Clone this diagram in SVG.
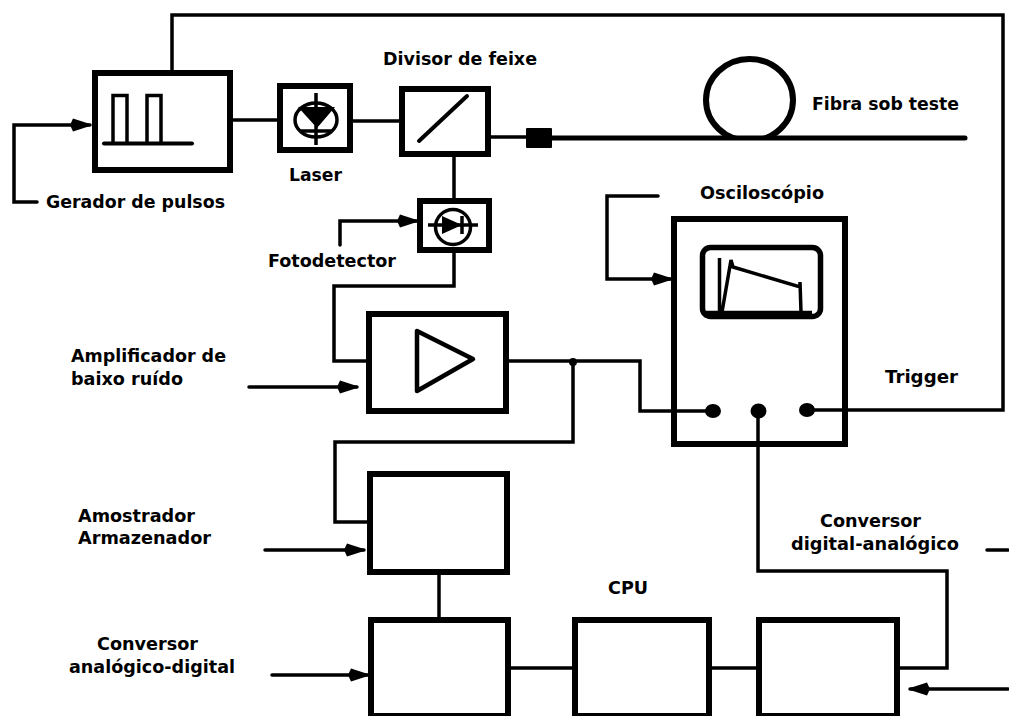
<svg xmlns="http://www.w3.org/2000/svg" width="1009" height="716" viewBox="0 0 1009 716">
<style>
.box{fill:#fff;stroke:#000;stroke-width:6}
.w{fill:none;stroke:#000;stroke-width:3.5;stroke-linejoin:miter;stroke-linecap:round}
.s{fill:none;stroke:#000;stroke-width:3.5}
.t{font-family:"DejaVu Sans","Liberation Sans",sans-serif;font-weight:700;font-size:18.300px;fill:#000}
</style>
<defs>
<marker id="a" markerUnits="userSpaceOnUse" markerWidth="22" markerHeight="14" refX="20" refY="7" orient="auto"><path d="M0 7L3 .5L20 6V8L3 13.500Z" fill="#000"/></marker>
<clipPath id="above"><rect x="690" y="40" width="120" height="98"/></clipPath>
</defs>
<rect width="1009" height="716" fill="#fff"/>
<g id="connectors">
<path class="w" d="M807 410H1003V15H172V70"/>
<path class="w" marker-end="url(#a)" d="M37 202H14V125H90"/>
<path class="w" d="M233 120H277M352 121H399M491 137H527M454 157V198"/>
<path class="w" marker-end="url(#a)" d="M340 245V221H417"/>
<path class="w" d="M454 253V286H334V361H366"/>
<path class="w" marker-end="url(#a)" d="M249 387H357"/>
<path class="w" d="M509 361H640V411H713"/>
<path class="w" d="M573 362V442H335V522H367"/>
<path class="w" marker-end="url(#a)" d="M265 550H364"/>
<path class="w" marker-end="url(#a)" d="M272 675H368"/>
<path class="w" d="M439 575V617M510 668H572M712 668H757"/>
<path class="w" d="M758 411V571H947V668H900"/>
<path class="w" marker-end="url(#a)" d="M1008 689H910"/>
<path class="w" d="M987 550H1008"/>
<path class="w" marker-end="url(#a)" d="M658 196H607V279H671"/>
<path d="M552 138H965" fill="none" stroke="#000" stroke-width="5" stroke-linecap="round"/>
<circle cx="573" cy="362" r="4" fill="#000"/>
</g>
<g id="gerador">
<rect class="box" x="95" y="73" width="135" height="97"/>
<path class="s" d="M113 143V95.500H127V143M147 143V95.500H161V143"/>
<path d="M104 143.500H192" fill="none" stroke="#000" stroke-width="4" stroke-linecap="round"/>
</g>
<g id="laser">
<rect class="box" x="280" y="86" width="70" height="64"/>
<ellipse class="s" cx="316" cy="120" rx="21" ry="17"/>
<path d="M298 107H335L317 128Z" fill="#000"/>
<path class="s" d="M316 93V145M301 131H331"/>
</g>
<g id="divisor">
<rect class="box" x="402" y="89" width="86" height="65"/>
<path d="M419 141L467 96" fill="none" stroke="#000" stroke-width="4" stroke-linecap="round"/>
</g>
<g id="fotodetector">
<rect class="box" x="420" y="201" width="69" height="49"/>
<circle class="s" cx="453" cy="227" r="17.500"/>
<path class="s" d="M428 225H478M462 216V234"/>
<path d="M442 216V234L462 225Z" fill="#000"/>
</g>
<g id="conector"><rect x="526" y="128" width="26" height="20" rx="1" fill="#000"/></g>
<g id="fibra"><ellipse cx="749.500" cy="100" rx="43.500" ry="41" fill="none" stroke="#000" stroke-width="6" clip-path="url(#above)"/></g>
<g id="amplificador">
<rect class="box" x="369" y="314" width="137" height="97"/>
<path d="M417 331V391L473 359Z" fill="#fff" stroke="#000" stroke-width="4.500" stroke-linejoin="round"/>
</g>
<g id="amostrador"><rect class="box" x="370" y="474" width="137" height="98"/></g>
<g id="adc"><rect class="box" x="371" y="620" width="137" height="96"/></g>
<g id="cpu"><rect class="box" x="575" y="620" width="134" height="96"/></g>
<g id="dac"><rect class="box" x="759" y="620" width="138" height="96"/></g>
<g id="osciloscopio">
<path class="box" style="fill:none" d="M674 219H845V444H674Z"/>
<rect x="702.500" y="247.500" width="118" height="69" rx="8" fill="#fff" stroke="#000" stroke-width="5.500"/>
<path class="s" d="M719.500 258V312L722 312L731 260L733 267L800 287L800 282L801 312"/>
<path d="M704 313H812" fill="none" stroke="#000" stroke-width="4.500"/>
<ellipse cx="713" cy="411" rx="8" ry="7" fill="#000"/>
<ellipse cx="758.500" cy="411" rx="8" ry="7.500" fill="#000"/>
<ellipse cx="807" cy="410" rx="8" ry="7" fill="#000"/>
</g>
<g id="labels">
<text class="t" x="46" y="208" textLength="179" lengthAdjust="spacingAndGlyphs">Gerador de pulsos</text>
<text class="t" x="289" y="181" textLength="53" lengthAdjust="spacingAndGlyphs">Laser</text>
<text class="t" x="383" y="65" textLength="154" lengthAdjust="spacingAndGlyphs">Divisor de feixe</text>
<text class="t" x="268" y="267" textLength="128" lengthAdjust="spacingAndGlyphs">Fotodetector</text>
<text class="t" x="812" y="110" textLength="147" lengthAdjust="spacingAndGlyphs">Fibra sob teste</text>
<text class="t" x="700" y="199" textLength="124" lengthAdjust="spacingAndGlyphs">Osciloscópio</text>
<text class="t" x="885" y="383" textLength="73" lengthAdjust="spacingAndGlyphs">Trigger</text>
<text class="t" x="71" y="362" textLength="155" lengthAdjust="spacingAndGlyphs">Amplificador de</text>
<text class="t" x="71" y="385" textLength="112" lengthAdjust="spacingAndGlyphs">baixo ruído</text>
<text class="t" x="78" y="522" textLength="117" lengthAdjust="spacingAndGlyphs">Amostrador</text>
<text class="t" x="78" y="544" textLength="133" lengthAdjust="spacingAndGlyphs">Armazenador</text>
<text class="t" x="97" y="650" textLength="101" lengthAdjust="spacingAndGlyphs">Conversor</text>
<text class="t" x="69" y="673" textLength="166" lengthAdjust="spacingAndGlyphs">analógico-digital</text>
<text class="t" x="608" y="594" textLength="40" lengthAdjust="spacingAndGlyphs">CPU</text>
<text class="t" x="820" y="527" textLength="101" lengthAdjust="spacingAndGlyphs">Conversor</text>
<text class="t" x="791" y="550" textLength="168" lengthAdjust="spacingAndGlyphs">digital-analógico</text>
</g>
</svg>
